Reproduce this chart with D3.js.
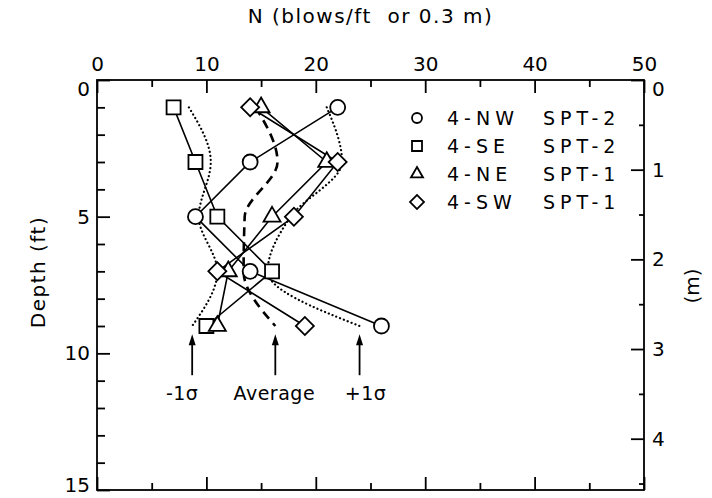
<!DOCTYPE html>
<html>
<head>
<meta charset="utf-8">
<script src="https://cdn.jsdelivr.net/npm/d3@7"></script>
<style>
  body { margin: 0; background: #fff; }
  text { font-family: "DejaVu Sans", sans-serif; fill: #000; }
</style>
</head>
<body>
<div id="chart"></div>
<script>
// depth (ft) of each test
const depths = [1, 3, 5, 7, 9]

// blow counts per boring
const nw = [22, 14, 9, 14, 26]
const se = [7, 9, 11, 16, 10]
const ne = [15, 21, 16, 12, 11]
const sw = [14, 22, 18, 11, 19]

// average and +/- 1 sigma envelopes
const average = [14.5, 16.5, 13.5, 13.4, 16.3]
const minusSigma = [8.4, 10.4, 9.3, 11.0, 8.7]
const plusSigma = [21.0, 22.4, 17.7, 15.6, 24.0]

const names = ['4-NW', '4-SE', '4-NE', '4-SW']
const tests = ['SPT-2', 'SPT-2', 'SPT-1', 'SPT-1']
const shapes = ['circle', 'square', 'triangle', 'diamond']
const arrowLabels = ['-1σ', 'Average', '+1σ']

const nTicks = [0, 10, 20, 30, 40, 50]
const nMinor = [5, 15, 25, 35, 45]
const ftTicks = [0, 5, 10, 15]
const ftMinor = [1, 2, 3, 4, 6, 7, 8, 9, 11, 12, 13, 14]
const mTicks = [0, 1, 2, 3, 4]
const mMinor = [0.5, 1.5, 2.5, 3.5, 4.5]

const margin = { top: 80, left: 97, right: 68, bottom: 8 }
const width = 712 - margin.left - margin.right
const height = 498 - margin.top - margin.bottom

const root = d3
  .select('#chart')
  .append('svg')
  .attr('width', 712)
  .attr('height', 498)

const svg = root
  .append('g')
  .attr('transform', `translate(${margin.left},${margin.top})`)

const x = d3.scaleLinear().domain([0, 50]).range([0, width])
const y = d3.scaleLinear().domain([0, 15]).range([0, height])
const yM = d3.scaleLinear().domain([0, 15 * 0.3048]).range([0, height])

// axes, ticks point inward
function addAxis(axis, transform) {
  const g = svg.append('g').attr('transform', transform || null).call(axis)
  g.select('.domain').remove()
  g.selectAll('.tick line').attr('stroke', '#000').attr('stroke-width', 1.8)
  g.selectAll('.tick text')
    .attr('font-size', 20)
    .attr('font-family', '"DejaVu Sans", sans-serif')
    .attr('fill', '#000')
  return g
}

addAxis(d3.axisTop(x).tickValues(nTicks).tickSize(-13).tickPadding(9))
addAxis(d3.axisTop(x).tickValues(nMinor).tickSize(-7).tickFormat(''))
addAxis(d3.axisBottom(x).tickValues(nTicks).tickSize(-13).tickFormat(''), `translate(0,${height})`)
addAxis(d3.axisBottom(x).tickValues(nMinor).tickSize(-7).tickFormat(''), `translate(0,${height})`)

const left = addAxis(d3.axisLeft(y).tickValues(ftTicks).tickSize(-13).tickPadding(7))
addAxis(d3.axisLeft(y).tickValues(ftMinor).tickSize(-8).tickFormat(''))
left.selectAll('.tick text').filter(d => d === 0).attr('dy', '0.75em')
left.selectAll('.tick text').filter(d => d === 15).attr('dy', '0.08em')

const right = addAxis(
  d3.axisRight(yM).tickValues(mTicks).tickSize(-13).tickPadding(8).tickFormat(d3.format('d')),
  `translate(${width},0)`
)
addAxis(d3.axisRight(yM).tickValues(mMinor).tickSize(-5).tickFormat(''), `translate(${width},0)`)
right.selectAll('.tick text').filter(d => d === 0).attr('dy', '0.75em')

// frame
svg
  .append('rect')
  .attr('width', width)
  .attr('height', height)
  .attr('fill', 'none')
  .attr('stroke', '#000')
  .attr('stroke-width', 1.8)

// axis titles
root
  .append('text')
  .text('N (blows/ft  or 0.3 m)')
  .attr('x', margin.left + width / 2)
  .attr('y', 23)
  .attr('text-anchor', 'middle')
  .attr('font-size', 20)
  .style('letter-spacing', '1.5px')
  .style('white-space', 'pre')

root
  .append('text')
  .text('Depth (ft)')
  .attr('transform', 'translate(38,272) rotate(-90)')
  .attr('text-anchor', 'middle')
  .attr('dominant-baseline', 'central')
  .attr('font-size', 20)
  .style('letter-spacing', '1.5px')

root
  .append('text')
  .text('(m)')
  .attr('transform', 'translate(692,286) rotate(-90)')
  .attr('text-anchor', 'middle')
  .attr('dominant-baseline', 'central')
  .attr('font-size', 20)

// envelope lines
const curve = d3
  .line()
  .x(d => x(d[0]))
  .y(d => y(d[1]))
  .curve(d3.curveMonotoneY)

;[minusSigma, plusSigma].forEach(vals => {
  svg
    .append('path')
    .attr('d', curve(d3.zip(vals, depths)))
    .attr('fill', 'none')
    .attr('stroke', '#000')
    .attr('stroke-width', 2.2)
    .attr('stroke-linecap', 'round')
    .attr('stroke-dasharray', '0.1,4')
})

svg
  .append('path')
  .attr('d', curve(d3.zip(average, depths)))
  .attr('fill', 'none')
  .attr('stroke', '#000')
  .attr('stroke-width', 2.6)
  .attr('stroke-dasharray', '9,6')

// boring lines
const line = d3
  .line()
  .x(d => x(d[0]))
  .y(d => y(d[1]))

const series = [nw, se, ne, sw]

series.forEach(vals => {
  svg
    .append('path')
    .attr('d', line(d3.zip(vals, depths)))
    .attr('fill', 'none')
    .attr('stroke', '#000')
    .attr('stroke-width', 1.6)
})

function symbolPath(shape, s) {
  if (shape === 'circle') return d3.symbol().type(d3.symbolCircle).size(Math.PI * s * s / 4)()
  if (shape === 'square') return d3.symbol().type(d3.symbolSquare).size(s * s)()
  if (shape === 'triangle') return d3.symbol().type(d3.symbolTriangle).size(Math.sqrt(3) / 4 * s * s)()
  return d3.symbol().type(d3.symbolSquare).size(s * s / 2)()
}

const symbolSize = { circle: 15, square: 14, triangle: 17, diamond: 18 }
const legendSize = { circle: 10, square: 10, triangle: 12, diamond: 14 }

series.forEach((vals, i) => {
  const shape = shapes[i]
  svg
    .selectAll('.pt-' + i)
    .data(d3.zip(vals, depths))
    .enter()
    .append('path')
    .attr('class', 'pt-' + i)
    .attr('d', symbolPath(shape, symbolSize[shape]))
    .attr('transform', d => `translate(${x(d[0])},${y(d[1])})` + (shape === 'diamond' ? ' rotate(45)' : ''))
    .attr('fill', '#fff')
    .attr('stroke', '#000')
    .attr('stroke-width', 1.8)
})

// arrows under the envelope ends
const arrowTop = 9.3
const arrowBottom = 10.8
const labelShift = [-10, -1, 6]

;[minusSigma, average, plusSigma].forEach((vals, i) => {
  const ax = x(vals[vals.length - 1])
  const g = svg.append('g').attr('transform', `translate(${ax},0)`)
  g.append('line')
    .attr('y1', y(arrowBottom))
    .attr('y2', y(arrowTop) + 8)
    .attr('stroke', '#000')
    .attr('stroke-width', 1.8)
  g.append('path')
    .attr('d', `M0,${y(arrowTop)} L-3.5,${y(arrowTop) + 11} L3.5,${y(arrowTop) + 11} Z`)
    .attr('fill', '#000')
  g.append('text')
    .text(arrowLabels[i])
    .attr('x', labelShift[i])
    .attr('y', y(arrowBottom) + 25)
    .attr('text-anchor', 'middle')
    .attr('font-size', 19)
    .style('letter-spacing', '0.5px')
})

// legend
const legend = svg
  .selectAll('.legend')
  .data(names)
  .enter()
  .append('g')
  .attr('class', 'legend')
  .attr('transform', (d, i) => `translate(${320},${38 + i * 28})`)

legend
  .append('path')
  .attr('d', (d, i) => symbolPath(shapes[i], legendSize[shapes[i]]))
  .attr('transform', (d, i) => (shapes[i] === 'diamond' ? 'rotate(45)' : null))
  .attr('fill', '#fff')
  .attr('stroke', '#000')
  .attr('stroke-width', 1.8)

legend
  .append('text')
  .text(d => d)
  .attr('x', 30)
  .attr('dominant-baseline', 'central')
  .attr('font-size', 19)
  .style('letter-spacing', '5px')

legend
  .append('text')
  .text((d, i) => tests[i])
  .attr('x', 126)
  .attr('dominant-baseline', 'central')
  .attr('font-size', 19)
  .style('letter-spacing', '5px')
</script>
</body>
</html>
